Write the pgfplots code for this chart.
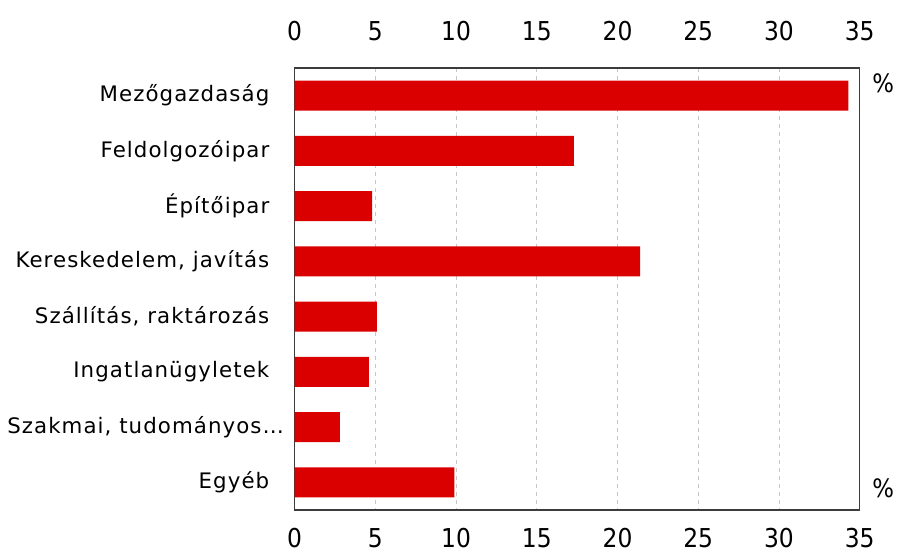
\documentclass[border=0pt]{standalone}
\usepackage{pgfplots}
\pgfplotsset{compat=1.18}
\usepackage{fontspec}
\setmainfont{DejaVu Sans}
\newfontfamily\condfont{DejaVu Sans Condensed}
\newfontfamily\catfont[LetterSpace=5]{DejaVu Sans}
\definecolor{barred}{RGB}{218,0,0}
\definecolor{framegray}{RGB}{60,60,60}
\begin{document}
\begin{tikzpicture}
\path[use as bounding box] (-221pt,-36pt) rectangle (452.5pt,382.5pt);
\pgfplotsset{
  common/.style={
    at={(0,0)}, anchor=south west,
    scale only axis, width=423.75pt, height=331.5pt,
    xmin=0, xmax=35, ymin=-0.5, ymax=7.5, y dir=reverse,
    xtick={0,5,...,35},
    major tick length=0pt,
    /pgf/number format/assume math mode=true,
  }
}
\begin{axis}[common,
  xbar, bar width=22.5pt,
  axis line style={framegray, line width=0.8pt},
  xmajorgrids, grid style={dashed, gray!45, line width=0.5pt},
  xticklabel pos=bottom,
  xticklabel style={font=\condfont\fontsize{19.5}{20}\selectfont, yshift=-10pt},
  ytick={0,...,7},
  yticklabels={Mezőgazdaság,Feldolgozóipar,Építőipar,{Kereskedelem, javítás},{Szállítás, raktározás},Ingatlanügyletek,{Szakmai, tudományos…\kern-11pt},Egyéb},
  yticklabel style={font=\catfont\fontsize{16}{18}\selectfont, xshift=-15.5pt},
  clip=false,
]
\addplot[fill=barred, draw=none] coordinates {
  (34.3,0) (17.3,1) (4.8,2) (21.4,3) (5.1,4) (4.6,5) (2.8,6) (9.9,7)
};
\node[font=\condfont\fontsize{19}{20}\selectfont, anchor=west, xshift=6pt] at (rel axis cs:1,0.05) {\%};
\node[font=\condfont\fontsize{19}{20}\selectfont, anchor=west, xshift=6pt] at (rel axis cs:1,0.965) {\%};
\end{axis}
\begin{axis}[common,
  axis line style={draw=none},
  hide y axis,
  xticklabel pos=top,
  xticklabel style={font=\condfont\fontsize{19.5}{20}\selectfont, yshift=17pt},
]
\end{axis}
\end{tikzpicture}
\end{document}
